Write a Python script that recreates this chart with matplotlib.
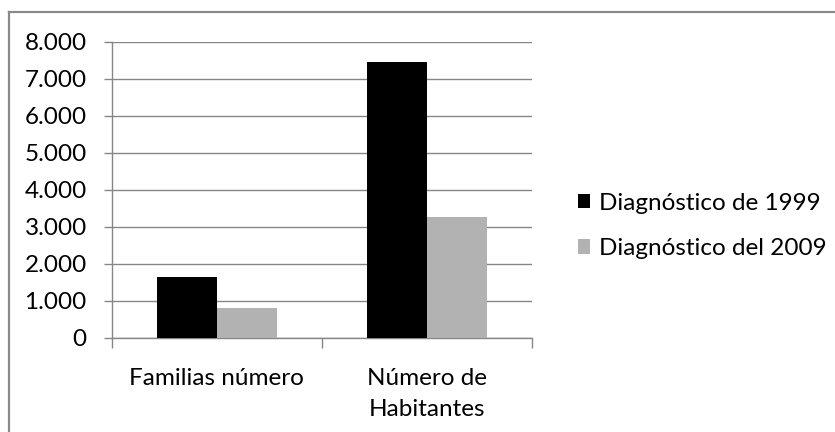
import numpy as np
import matplotlib
matplotlib.use('Agg')
from matplotlib import pyplot as plt
from matplotlib.lines import Line2D

categories = ['Familias número', 'Número de\nHabitantes']
series_names = ['Diagnóstico de 1999', 'Diagnóstico del 2009']
values_1999 = [1650, 7460]
values_2009 = [810, 3255]
y_ticks = [0, 1000, 2000, 3000, 4000, 5000, 6000, 7000, 8000]
y_tick_labels = ['0', '1.000', '2.000', '3.000', '4.000', '5.000', '6.000', '7.000', '8.000']

plt.rcParams['font.family'] = ['Lato', 'DejaVu Sans']
axis_grey = '#868686'
fs = 17.5

fig = plt.figure(figsize=(8.35, 4.32), dpi=100)
ax = fig.add_axes([111.7 / 835, 1 - 337.7 / 432, 420 / 835, 296 / 432])

x = np.arange(len(categories))
w = 60 / 210
ax.bar(x - w / 2, values_1999, width=w, color='black', label=series_names[0], zorder=3)
ax.bar(x + w / 2, values_2009, width=w, color='#b2b2b2', label=series_names[1], zorder=3)

ax.set_xlim(-0.5, len(categories) - 0.5)
ax.set_ylim(0, 8000)
ax.set_yticks(y_ticks)
ax.set_yticklabels(y_tick_labels, fontsize=fs)
ax.yaxis.grid(True, color=axis_grey, linewidth=1.0, zorder=0)

# category labels centered, ticks on the category borders
ax.set_xticks(x)
ax.set_xticklabels(categories, fontsize=fs, linespacing=1.55)
ax.tick_params(axis='x', length=0, pad=22)
ax.set_xticks([-0.5, 0.5, 1.5], minor=True)
ax.tick_params(axis='x', which='minor', length=7, width=1.0, color=axis_grey)
ax.tick_params(axis='y', length=6, width=1.0, color=axis_grey, pad=12)

for side in ['top', 'right']:
    ax.spines[side].set_visible(False)
for side in ['left', 'bottom']:
    ax.spines[side].set_color(axis_grey)
    ax.spines[side].set_linewidth(1.0)

ax.legend(loc='center left', bbox_to_anchor=(568 / 835, 1 - 226 / 432), bbox_transform=fig.transFigure,
          frameon=False, fontsize=fs, handlelength=0.52, handleheight=0.52, handletextpad=0.35,
          labelspacing=1.0, borderaxespad=0)

# outer chart border (only top and left visible in the crop)
fig.add_artist(Line2D([8.5 / 835, 8.5 / 835], [0, 1 - 12 / 432], transform=fig.transFigure,
                      color='#8a8a8a', linewidth=1.6))
fig.add_artist(Line2D([8.5 / 835, 1], [1 - 12 / 432, 1 - 12 / 432], transform=fig.transFigure,
                      color='#8a8a8a', linewidth=1.6))

fig.savefig('out.png', dpi=100)
